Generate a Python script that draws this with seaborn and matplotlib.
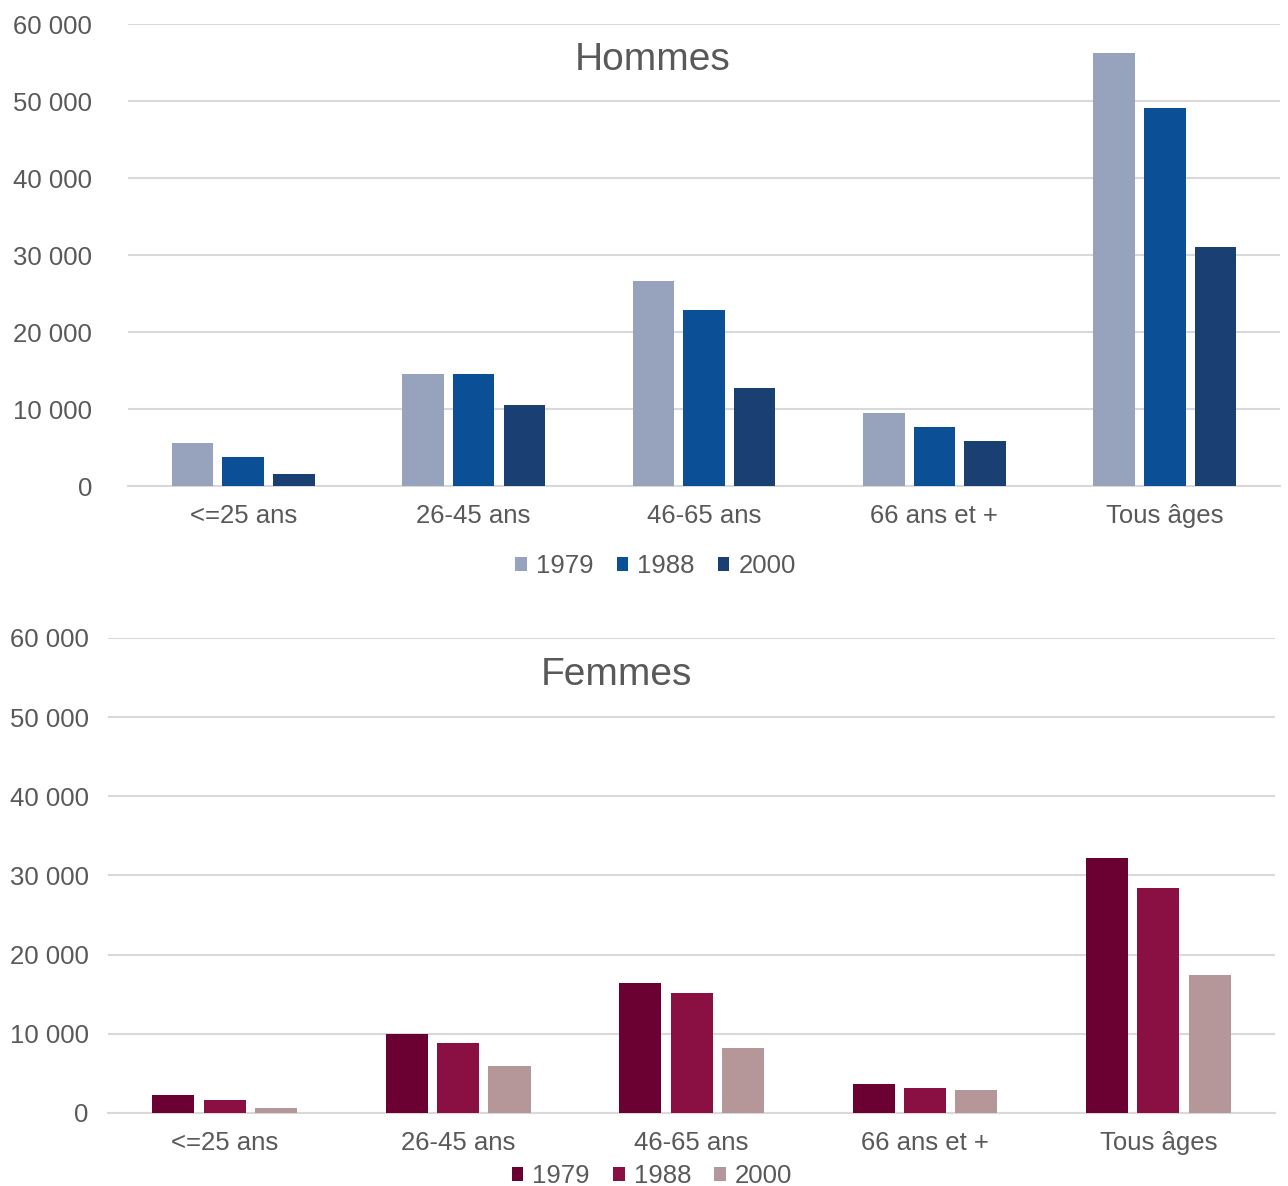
import pandas as pd
import seaborn as sns
import matplotlib.pyplot as plt
import matplotlib.ticker as mtick

# Data
categories = ["<=25 ans", "26-45 ans", "46-65 ans", "66 ans et +", "Tous âges"]
years = ["1979", "1988", "2000"]

hommes_1979 = [5600, 14500, 26600, 9500, 56200]
hommes_1988 = [3800, 14500, 22900, 7700, 49100]
hommes_2000 = [1600, 10500, 12700, 5800, 31100]

femmes_1979 = [2300, 10000, 16400, 3700, 32200]
femmes_1988 = [1600, 8800, 15200, 3100, 28400]
femmes_2000 = [600, 5900, 8200, 2900, 17400]

hommes_colors = ["#97A2BC", "#0B4F97", "#1A3F73"]
femmes_colors = ["#6B0032", "#8A1043", "#B5979A"]

sns.set_style("white")
plt.rcParams['font.family'] = ['Liberation Sans', 'DejaVu Sans']

TEXT_COLOR = "#595959"
GRID_COLOR = "#D9D9D9"


def long_frame(series):
    rows = []
    for year, vals in zip(years, series):
        for cat, v in zip(categories, vals):
            rows.append({"Age": cat, "Year": year, "Value": v})
    return pd.DataFrame(rows)


def space_thousands(x, pos):
    return f"{int(x):,}".replace(",", " ")


def draw_panel(ax, df, colors, title, title_xy, legend_xy, ypad):
    sns.barplot(
        data=df, x="Age", y="Value", hue="Year",
        order=categories, hue_order=years,
        palette=colors, saturation=1, width=0.66, gap=0.18,
        linewidth=0, ax=ax, zorder=3
    )
    ax.set_xlim(-0.5, len(categories) - 0.5)
    ax.set_ylim(0, 60000)
    ax.set_yticks(range(0, 60001, 10000))
    ax.yaxis.set_major_formatter(mtick.FuncFormatter(space_thousands))
    ax.grid(axis='y', color=GRID_COLOR, linewidth=1.5, zorder=0)
    ax.set_axisbelow(True)
    for s in ["top", "right", "left"]:
        ax.spines[s].set_visible(False)
    ax.spines["bottom"].set_color(GRID_COLOR)
    ax.spines["bottom"].set_linewidth(1.5)
    ax.set_xlabel("")
    ax.set_ylabel("")
    ax.tick_params(axis='y', length=0, pad=ypad, labelsize=18.5, labelcolor=TEXT_COLOR)
    ax.tick_params(axis='x', length=0, pad=13, labelsize=18.5, labelcolor=TEXT_COLOR)

    ax.text(title_xy[0], title_xy[1], title, transform=ax.transAxes,
            ha='center', va='center', fontsize=28, color=TEXT_COLOR)

    ax.legend(
        loc='center', bbox_to_anchor=legend_xy, ncol=3, frameon=False,
        fontsize=18.5, labelcolor=TEXT_COLOR, handlelength=0.45, handleheight=0.45,
        handletextpad=0.35, columnspacing=0.9, borderaxespad=0
    )


fig = plt.figure(figsize=(12.88, 11.86), dpi=100)
ax_top = fig.add_axes([0.0994, 0.5902, 0.8944, 0.3895])
ax_bot = fig.add_axes([0.0839, 0.0616, 0.9061, 0.4005])

draw_panel(ax_top, long_frame([hommes_1979, hommes_1988, hommes_2000]),
           hommes_colors, "Hommes", (0.455, 0.922), (0.458, -0.173), 26)
draw_panel(ax_bot, long_frame([femmes_1979, femmes_1988, femmes_2000]),
           femmes_colors, "Femmes", (0.436, 0.921), (0.466, -0.133), 14)

fig.savefig("out.png", dpi=100)
plt.close(fig)
